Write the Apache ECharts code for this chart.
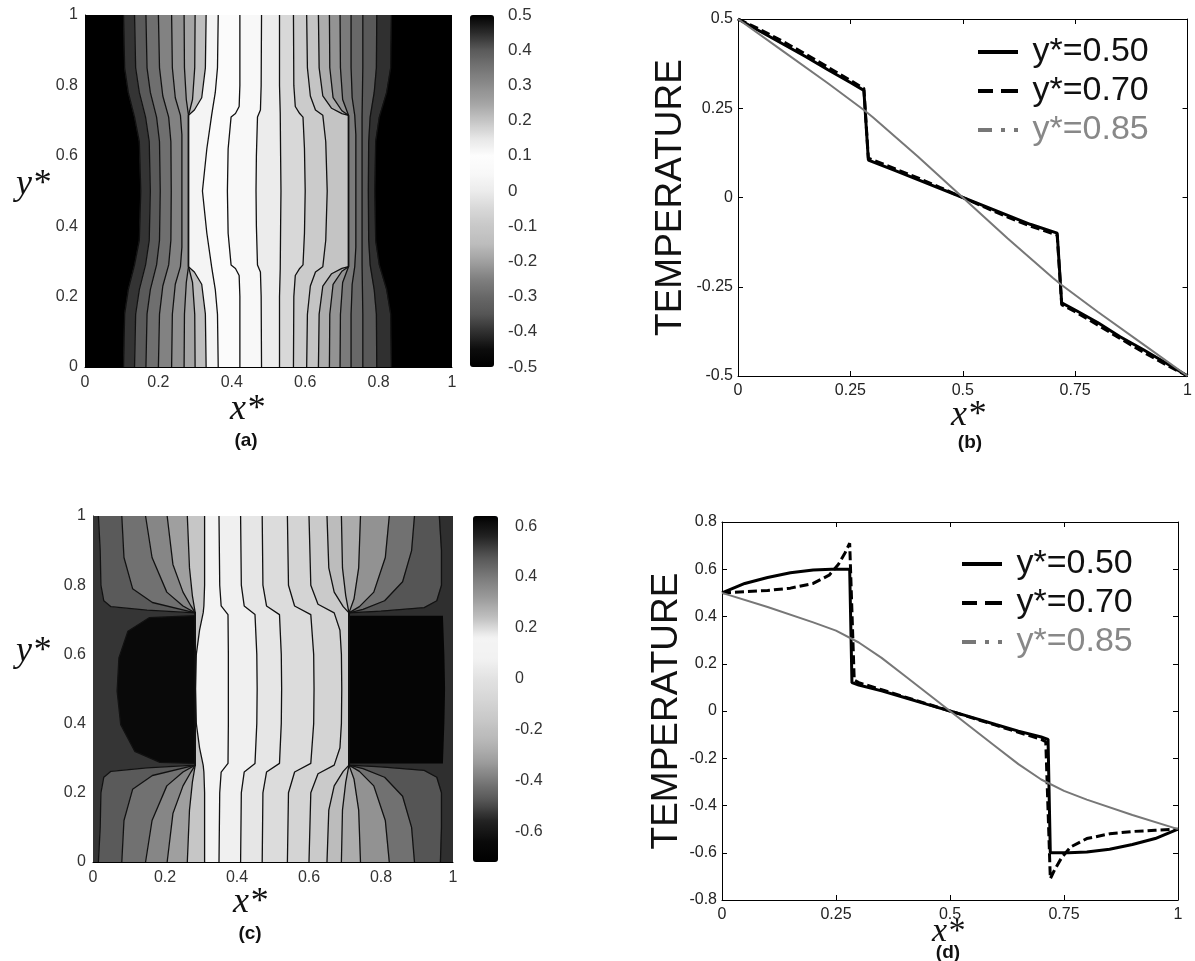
<!DOCTYPE html>
<html>
<head>
<meta charset="utf-8">
<script src="https://cdn.jsdelivr.net/npm/echarts@6/dist/echarts.min.js"></script>
<style>
html, body { margin: 0; padding: 0; background: #fff; }
#main { width: 1195px; height: 961px; }
</style>
</head>
<body>
<div id="main"></div>
<script>
// ---- panel (a): contour lines, [x*, y*] from bottom edge to top edge
const contoursA = [
  [[0.105,0],[0.108,0.15],[0.118,0.22],[0.135,0.29],[0.148,0.36],[0.152,0.5],[0.148,0.64],[0.135,0.71],[0.118,0.78],[0.108,0.85],[0.105,1]],
  [[0.135,0],[0.138,0.15],[0.148,0.22],[0.165,0.29],[0.175,0.36],[0.178,0.5],[0.175,0.64],[0.165,0.71],[0.148,0.78],[0.138,0.85],[0.135,1]],
  [[0.166,0],[0.169,0.15],[0.178,0.22],[0.195,0.29],[0.203,0.36],[0.205,0.5],[0.203,0.64],[0.195,0.71],[0.178,0.78],[0.169,0.85],[0.166,1]],
  [[0.2,0],[0.203,0.15],[0.212,0.23],[0.228,0.29],[0.234,0.36],[0.235,0.5],[0.234,0.64],[0.228,0.71],[0.212,0.77],[0.203,0.85],[0.2,1]],
  [[0.236,0],[0.238,0.15],[0.246,0.235],[0.26,0.285],[0.264,0.34],[0.264,0.5],[0.264,0.66],[0.26,0.715],[0.246,0.765],[0.238,0.85],[0.236,1]],
  [[0.27,0],[0.271,0.15],[0.276,0.24],[0.282,0.285],[0.282,0.715],[0.276,0.76],[0.271,0.85],[0.27,1]],
  [[0.3,0],[0.299,0.15],[0.293,0.24],[0.282,0.285],[0.282,0.715],[0.293,0.76],[0.299,0.85],[0.3,1]],
  [[0.33,0],[0.328,0.15],[0.318,0.235],[0.298,0.27],[0.282,0.285],[0.282,0.715],[0.298,0.73],[0.318,0.765],[0.328,0.85],[0.33,1]],
  [[0.363,0],[0.361,0.15],[0.355,0.22],[0.348,0.265],[0.345,0.285],[0.332,0.38],[0.32,0.5],[0.332,0.62],[0.345,0.715],[0.348,0.735],[0.355,0.78],[0.361,0.85],[0.363,1]],
  [[0.422,0],[0.422,0.2],[0.42,0.26],[0.41,0.28],[0.398,0.29],[0.39,0.38],[0.388,0.5],[0.39,0.62],[0.398,0.71],[0.41,0.72],[0.42,0.74],[0.422,0.8],[0.422,1]],
  [[0.481,0],[0.48,0.2],[0.478,0.27],[0.47,0.29],[0.467,0.4],[0.466,0.5],[0.467,0.6],[0.47,0.71],[0.478,0.73],[0.48,0.8],[0.481,1]],
  [[0.53,0],[0.53,0.2],[0.532,0.28],[0.533,0.4],[0.534,0.5],[0.533,0.6],[0.532,0.72],[0.53,0.8],[0.53,1]],
  [[0.568,0],[0.569,0.2],[0.573,0.26],[0.585,0.28],[0.594,0.29],[0.598,0.38],[0.6,0.5],[0.598,0.62],[0.594,0.71],[0.585,0.72],[0.573,0.74],[0.569,0.8],[0.568,1]],
  [[0.604,0],[0.606,0.15],[0.614,0.23],[0.628,0.27],[0.648,0.285],[0.656,0.36],[0.66,0.5],[0.656,0.64],[0.648,0.715],[0.628,0.73],[0.614,0.77],[0.606,0.85],[0.604,1]],
  [[0.636,0],[0.638,0.15],[0.648,0.23],[0.672,0.265],[0.7,0.28],[0.718,0.285],[0.718,0.715],[0.7,0.72],[0.672,0.735],[0.648,0.77],[0.638,0.85],[0.636,1]],
  [[0.666,0],[0.667,0.15],[0.676,0.235],[0.7,0.272],[0.718,0.285],[0.718,0.715],[0.7,0.728],[0.676,0.765],[0.667,0.85],[0.666,1]],
  [[0.695,0],[0.696,0.15],[0.702,0.24],[0.718,0.285],[0.718,0.715],[0.702,0.76],[0.696,0.85],[0.695,1]],
  [[0.725,0],[0.725,0.15],[0.728,0.235],[0.735,0.285],[0.738,0.34],[0.738,0.5],[0.738,0.66],[0.735,0.715],[0.728,0.765],[0.725,0.85],[0.725,1]],
  [[0.757,0],[0.757,0.15],[0.756,0.22],[0.755,0.29],[0.755,0.5],[0.755,0.71],[0.756,0.78],[0.757,0.85],[0.757,1]],
  [[0.795,0],[0.794,0.15],[0.788,0.22],[0.777,0.29],[0.773,0.36],[0.772,0.5],[0.773,0.64],[0.777,0.71],[0.788,0.78],[0.794,0.85],[0.795,1]],
  [[0.835,0],[0.833,0.15],[0.822,0.22],[0.802,0.29],[0.792,0.36],[0.79,0.5],[0.792,0.64],[0.802,0.71],[0.822,0.78],[0.833,0.85],[0.835,1]]
];
// temperature of each band between neighbouring contours (left edge .. right edge)
const bandTempA = [0.5, 0.44, 0.4, 0.36, 0.32, 0.29, 0.25, 0.21, 0.12, 0.08, 0.05, 0,
  -0.05, -0.09, -0.12, -0.18, -0.22, -0.26, -0.3, -0.34, -0.4, -0.5];

// ---- panel (c)
const contoursC = [
  [[0.015,0],[0.02,0.1],[0.022,0.2],[0.03,0.245],[0.05,0.262],[0.15,0.272],[0.284,0.28],[0.284,0.72],[0.15,0.728],[0.05,0.738],[0.03,0.755],[0.022,0.8],[0.02,0.9],[0.015,1]],
  [[0.08,0],[0.086,0.12],[0.11,0.21],[0.165,0.25],[0.284,0.28],[0.284,0.72],[0.165,0.75],[0.11,0.79],[0.086,0.88],[0.08,1]],
  [[0.146,0],[0.164,0.12],[0.205,0.22],[0.25,0.26],[0.284,0.28],[0.284,0.72],[0.25,0.74],[0.205,0.78],[0.164,0.88],[0.146,1]],
  [[0.206,0],[0.222,0.14],[0.25,0.22],[0.272,0.26],[0.284,0.28],[0.284,0.72],[0.272,0.74],[0.25,0.78],[0.222,0.86],[0.206,1]],
  [[0.262,0],[0.268,0.15],[0.276,0.23],[0.284,0.28],[0.284,0.72],[0.276,0.77],[0.268,0.85],[0.262,1]],
  [[0.31,0],[0.31,0.2],[0.308,0.26],[0.306,0.28],[0.296,0.33],[0.287,0.4],[0.285,0.5],[0.287,0.6],[0.296,0.67],[0.306,0.72],[0.308,0.74],[0.31,0.8],[0.31,1]],
  [[0.35,0],[0.352,0.2],[0.356,0.26],[0.375,0.285],[0.376,0.4],[0.376,0.5],[0.376,0.6],[0.375,0.715],[0.356,0.74],[0.352,0.8],[0.35,1]],
  [[0.41,0],[0.412,0.2],[0.42,0.26],[0.45,0.285],[0.455,0.4],[0.456,0.5],[0.455,0.6],[0.45,0.715],[0.42,0.74],[0.412,0.8],[0.41,1]],
  [[0.47,0],[0.472,0.2],[0.482,0.26],[0.518,0.285],[0.523,0.4],[0.524,0.5],[0.523,0.6],[0.518,0.715],[0.482,0.74],[0.472,0.8],[0.47,1]],
  [[0.54,0],[0.543,0.2],[0.56,0.26],[0.605,0.285],[0.613,0.4],[0.614,0.5],[0.613,0.6],[0.605,0.715],[0.56,0.74],[0.543,0.8],[0.54,1]],
  [[0.6,0],[0.605,0.2],[0.625,0.255],[0.67,0.28],[0.686,0.33],[0.69,0.4],[0.691,0.5],[0.69,0.6],[0.686,0.67],[0.67,0.72],[0.625,0.745],[0.605,0.8],[0.6,1]],
  [[0.65,0],[0.655,0.15],[0.67,0.22],[0.695,0.262],[0.711,0.28],[0.711,0.72],[0.695,0.738],[0.67,0.78],[0.655,0.85],[0.65,1]],
  [[0.69,0],[0.693,0.15],[0.702,0.23],[0.711,0.28],[0.711,0.72],[0.702,0.77],[0.693,0.85],[0.69,1]],
  [[0.743,0],[0.738,0.15],[0.725,0.24],[0.711,0.28],[0.711,0.72],[0.725,0.76],[0.738,0.85],[0.743,1]],
  [[0.823,0],[0.812,0.12],[0.78,0.22],[0.74,0.262],[0.711,0.28],[0.711,0.72],[0.74,0.738],[0.78,0.78],[0.812,0.88],[0.823,1]],
  [[0.893,0],[0.885,0.1],[0.86,0.19],[0.81,0.245],[0.75,0.27],[0.711,0.28],[0.711,0.72],[0.75,0.73],[0.81,0.755],[0.86,0.81],[0.885,0.9],[0.893,1]],
  [[0.965,0],[0.968,0.1],[0.968,0.2],[0.955,0.245],[0.92,0.265],[0.8,0.275],[0.711,0.28],[0.711,0.72],[0.8,0.725],[0.92,0.735],[0.955,0.755],[0.968,0.8],[0.968,0.9],[0.962,1]]
];
const bandTempC = [0.53, 0.47, 0.42, 0.37, 0.31, 0.23, 0.12, 0.07, 0.02, -0.04, -0.09,
  -0.15, -0.22, -0.28, -0.35, -0.42, -0.48, -0.54];
// hot / cold cores beside the inclusion
const blobC = [
  [[0.284,0.285],[0.186,0.288],[0.116,0.32],[0.077,0.397],[0.067,0.494],[0.072,0.59],[0.097,0.667],[0.156,0.706],[0.284,0.712]],
  [[0.711,0.285],[0.972,0.285],[0.976,0.4],[0.978,0.5],[0.976,0.6],[0.972,0.712],[0.711,0.712]]
];
const blobTempC = [0.62, -0.68];
const cbTicksC = [-0.6, -0.4, -0.2, 0, 0.2, 0.4, 0.6];

// ---- panel (b): temperature along x* at three heights
const b50 = [[0,0.5],[0.05,0.465],[0.1,0.43],[0.15,0.395],[0.2,0.358],[0.25,0.322],[0.28,0.3],[0.29,0.105],[0.3,0.1],[0.35,0.075],[0.4,0.05],[0.45,0.025],[0.5,0],[0.55,-0.025],[0.6,-0.05],[0.65,-0.075],[0.71,-0.1],[0.72,-0.295],[0.75,-0.315],[0.8,-0.35],[0.85,-0.39],[0.9,-0.425],[0.95,-0.462],[1,-0.5]];
const b70 = [[0,0.5],[0.05,0.47],[0.1,0.437],[0.15,0.402],[0.2,0.365],[0.25,0.328],[0.28,0.305],[0.29,0.11],[0.3,0.105],[0.35,0.08],[0.4,0.055],[0.45,0.028],[0.5,0],[0.55,-0.028],[0.6,-0.055],[0.65,-0.08],[0.71,-0.105],[0.72,-0.3],[0.75,-0.32],[0.8,-0.357],[0.85,-0.395],[0.9,-0.432],[0.95,-0.467],[1,-0.5]];
const b85 = [[0,0.5],[0.1,0.41],[0.2,0.32],[0.28,0.245],[0.3,0.225],[0.4,0.115],[0.5,0],[0.6,-0.115],[0.7,-0.225],[0.72,-0.245],[0.8,-0.32],[0.9,-0.41],[1,-0.5]];

// ---- panel (d)
const d50 = [[0,0.5],[0.05,0.54],[0.1,0.565],[0.15,0.585],[0.2,0.597],[0.24,0.6],[0.28,0.6],[0.285,0.12],[0.3,0.11],[0.35,0.085],[0.4,0.057],[0.45,0.028],[0.5,0],[0.55,-0.028],[0.6,-0.057],[0.65,-0.085],[0.7,-0.11],[0.715,-0.12],[0.72,-0.6],[0.76,-0.6],[0.8,-0.597],[0.85,-0.585],[0.9,-0.565],[0.95,-0.54],[1,-0.5]];
const d70 = [[0,0.5],[0.05,0.505],[0.1,0.51],[0.15,0.52],[0.2,0.54],[0.235,0.575],[0.255,0.62],[0.27,0.67],[0.28,0.71],[0.29,0.13],[0.3,0.12],[0.35,0.09],[0.4,0.06],[0.45,0.03],[0.5,0],[0.55,-0.03],[0.6,-0.06],[0.65,-0.09],[0.7,-0.12],[0.71,-0.13],[0.72,-0.71],[0.73,-0.67],[0.745,-0.62],[0.765,-0.575],[0.8,-0.54],[0.85,-0.52],[0.9,-0.51],[0.95,-0.505],[1,-0.5]];
const d85 = [[0,0.5],[0.1,0.44],[0.2,0.375],[0.25,0.34],[0.3,0.29],[0.35,0.225],[0.4,0.15],[0.45,0.075],[0.5,0],[0.55,-0.075],[0.6,-0.15],[0.65,-0.225],[0.7,-0.29],[0.75,-0.338],[0.8,-0.375],[0.9,-0.44],[1,-0.5]];

const legendNames = ['y*=0.50', 'y*=0.70', 'y*=0.85'];

const FONT = "'Liberation Sans', Arial, sans-serif";
const SERIF = "'Liberation Serif', 'Times New Roman', serif";

// filled band between contour i-1 and contour i
function bandSeries(lines, temps, ax) {
  return {
    type: 'custom', xAxisIndex: ax, yAxisIndex: ax, silent: true, clip: true, z: 1,
    data: temps.map((t, i) => [i, t]),
    renderItem: function (params, api) {
      const i = params.dataIndex;
      const left = i === 0 ? [[0, 0], [0, 1]] : lines[i - 1];
      const right = i === lines.length ? [[1, 0], [1, 1]] : lines[i];
      const pts = left.concat(right.slice().reverse()).map(p => api.coord(p));
      const c = api.visual('color');
      return { type: 'polygon', shape: { points: pts }, style: { fill: c, stroke: c, lineWidth: 0.6 } };
    }
  };
}
function blobSeries(polys, temps, ax) {
  return {
    type: 'custom', xAxisIndex: ax, yAxisIndex: ax, silent: true, clip: true, z: 2,
    data: temps.map((t, i) => [i, t]),
    renderItem: function (params, api) {
      const pts = polys[params.dataIndex].map(p => api.coord(p));
      return { type: 'polygon', shape: { points: pts }, style: { fill: api.visual('color') } };
    }
  };
}
function contourLine(pts, ax) {
  return {
    type: 'line', xAxisIndex: ax, yAxisIndex: ax, data: pts, symbol: 'none', silent: true, z: 3,
    lineStyle: { color: '#111', width: 1.3 }
  };
}
function profile(name, data, ax, style) {
  return {
    name: name, type: 'line', xAxisIndex: ax, yAxisIndex: ax, data: data, symbol: 'none', silent: true,
    lineStyle: style, itemStyle: { color: style.color }, z: 3
  };
}

const series = [];
const iBandA = series.push(bandSeries(contoursA, bandTempA, 0)) - 1;
contoursA.forEach(c => series.push(contourLine(c, 0)));
const iBandC = series.push(bandSeries(contoursC, bandTempC, 4)) - 1;
const iBlobC = series.push(blobSeries(blobC, blobTempC, 4)) - 1;
contoursC.concat([blobC[0]]).forEach(c => series.push(contourLine(c, 4)));

const st50 = { color: '#000', width: 3 };
const st70 = { color: '#000', width: 3, type: [9, 4] };
const st85 = { color: '#777', width: 2 };
series.push(profile(legendNames[0], b50, 2, st50));
series.push(profile(legendNames[1], b70, 2, st70));
series.push(profile(legendNames[2], b85, 2, st85));
series.push(profile(legendNames[0], d50, 6, st50));
series.push(profile(legendNames[1], d70, 6, st70));
series.push(profile(legendNames[2], d85, 6, st85));

const mapLabel = { fontFamily: FONT, fontSize: 16, color: '#333' };
const lineLabel = { fontFamily: FONT, fontSize: 16, color: '#222' };
const blackLine = { onZero: false, lineStyle: { color: '#000', width: 1 } };

function mapX(grid) {
  return { gridIndex: grid, type: 'value', min: 0, max: 1, interval: 0.2, axisLine: blackLine,
    axisTick: { show: false }, splitLine: { show: false }, axisLabel: Object.assign({ margin: 8 }, mapLabel) };
}
function mapY(grid) {
  return { gridIndex: grid, type: 'value', min: 0, max: 1, interval: 0.2, axisLine: blackLine,
    axisTick: { show: false }, splitLine: { show: false }, axisLabel: Object.assign({ margin: 7 }, mapLabel) };
}
function plotX(grid, top) {
  return { gridIndex: grid, type: 'value', min: 0, max: 1, interval: 0.25, position: top ? 'top' : 'bottom',
    axisLine: blackLine, splitLine: { show: false },
    axisTick: { inside: true, length: 5, lineStyle: { color: '#000' } },
    axisLabel: Object.assign({ show: !top, margin: 7 }, lineLabel) };
}
function plotY(grid, right, min, max, interval, gap) {
  const ax = { gridIndex: grid, type: 'value', min: min, max: max, interval: interval,
    position: right ? 'right' : 'left', axisLine: blackLine, splitLine: { show: false },
    axisTick: { inside: true, length: 5, lineStyle: { color: '#000' } },
    axisLabel: Object.assign({ show: !right, margin: 5 }, lineLabel) };
  if (!right) {
    ax.name = 'TEMPERATURE';
    ax.nameLocation = 'middle';
    ax.nameRotate = 90;
    ax.nameGap = gap;
    ax.nameTextStyle = { fontFamily: FONT, fontSize: 37, color: '#111' };
  }
  return ax;
}

function txt(x, y, text, font, fill) {
  return { type: 'text', x: x, y: y, silent: true,
    style: { text: text, font: font, fill: fill || '#111', textAlign: 'center', textVerticalAlign: 'middle' } };
}

// legend marks drawn as small filled paths: solid, dashed, dash-dot
const iconSolid = 'path://M0,0h40v4h-40z';
const iconDash = 'path://M0,0h15v4h-15zM23,0h17v4h-17z';
const iconDashDot = 'path://M0,0h14v4h-14zM23,0h4v4h-4zM36,0h4v4h-4z';

function legendAt(left, top) {
  return {
    left: left, top: top, orient: 'vertical', itemWidth: 40, itemHeight: 4, itemGap: 5, padding: 0,
    selectedMode: false, formatter: ' {name}',
    textStyle: { fontFamily: FONT, fontSize: 34, color: '#111' },
    data: [
      { name: legendNames[0], icon: iconSolid },
      { name: legendNames[1], icon: iconDash },
      { name: legendNames[2], icon: iconDashDot, textStyle: { color: '#888' } }
    ]
  };
}

const chart = echarts.init(document.getElementById('main'));
chart.setOption({
  animation: false,
  backgroundColor: '#fff',
  grid: [
    { left: 85, top: 15, width: 367, height: 352 },
    { left: 470, top: 15, width: 24, height: 352 },
    { left: 738, top: 19, width: 461, height: 357 },
    { left: 93, top: 516, width: 360, height: 346 },
    { left: 473, top: 516, width: 25, height: 346 },
    { left: 722, top: 522, width: 456, height: 378 }
  ],
  xAxis: [
    mapX(0),
    { gridIndex: 1, type: 'value', min: 0, max: 1, show: false },
    plotX(2, false),
    plotX(2, true),
    mapX(3),
    { gridIndex: 4, type: 'value', min: 0, max: 1, show: false },
    plotX(5, false),
    plotX(5, true)
  ],
  yAxis: [
    mapY(0),
    { gridIndex: 1, type: 'value', min: -0.5, max: 0.5, interval: 0.1, position: 'right',
      axisLine: { show: false }, axisTick: { show: false }, splitLine: { show: false },
      axisLabel: Object.assign({ margin: 14 }, mapLabel, { fontSize: 17 }) },
    plotY(2, false, -0.5, 0.5, 0.25, 49),
    plotY(2, true, -0.5, 0.5, 0.25),
    mapY(3),
    { gridIndex: 4, type: 'value', min: -0.72, max: 0.64, position: 'right',
      axisLine: { show: false }, axisTick: { show: false }, splitLine: { show: false },
      axisLabel: Object.assign({ margin: 17, customValues: cbTicksC }, mapLabel) },
    plotY(5, false, -0.8, 0.8, 0.2, 33),
    plotY(5, true, -0.8, 0.8, 0.2)
  ],
  visualMap: [
    { type: 'continuous', min: -0.5, max: 0.5, dimension: 1, seriesIndex: [iBandA],
      calculable: false, hoverLink: false, orient: 'vertical', left: 470, top: 15, padding: 0,
      itemWidth: 24, itemHeight: 352,
      inRange: { color: ['#000000', '#0c0c0c', '#303030', '#555555', '#686868', '#808080', '#a0a0a0',
        '#bdbdbd', '#c8c8c8', '#d8d8d8', '#ececec', '#f8f8f8', '#fdfdfd', '#e6e6e6', '#c4c4c4',
        '#a4a4a4', '#8c8c8c', '#747474', '#5a5a5a', '#2a2a2a', '#000000'] } },
    { type: 'continuous', min: -0.72, max: 0.64, dimension: 1, seriesIndex: [iBandC, iBlobC],
      calculable: false, hoverLink: false, orient: 'vertical', left: 473, top: 516, padding: 0,
      itemWidth: 25, itemHeight: 346,
      inRange: { color: ['#000000', '#0a0a0a', '#222222', '#555555', '#7a7a7a', '#a0a0a0', '#b8b8b8',
        '#c8c8c8', '#d6d6d6', '#e2e2e2', '#f2f2f2', '#f4f4f4', '#c0c0c0', '#9a9a9a', '#7a7a7a',
        '#555555', '#222222', '#000000'] } }
  ],
  legend: [legendAt(978, 35), legendAt(962, 547)],
  graphic: [
    txt(33, 185, 'y*', 'italic 36px ' + SERIF),
    txt(33, 652, 'y*', 'italic 36px ' + SERIF),
    txt(247, 410, 'x*', 'italic 36px ' + SERIF),
    txt(250, 903, 'x*', 'italic 36px ' + SERIF),
    txt(968, 416, 'x*', 'italic 36px ' + SERIF),
    txt(948, 932, 'x*', 'italic 34px ' + SERIF),
    txt(246, 441, '(a)', 'bold 19px ' + FONT),
    txt(970, 443, '(b)', 'bold 19px ' + FONT),
    txt(250, 934, '(c)', 'bold 19px ' + FONT),
    txt(948, 953, '(d)', 'bold 19px ' + FONT)
  ],
  series: series
});
</script>
</body>
</html>
